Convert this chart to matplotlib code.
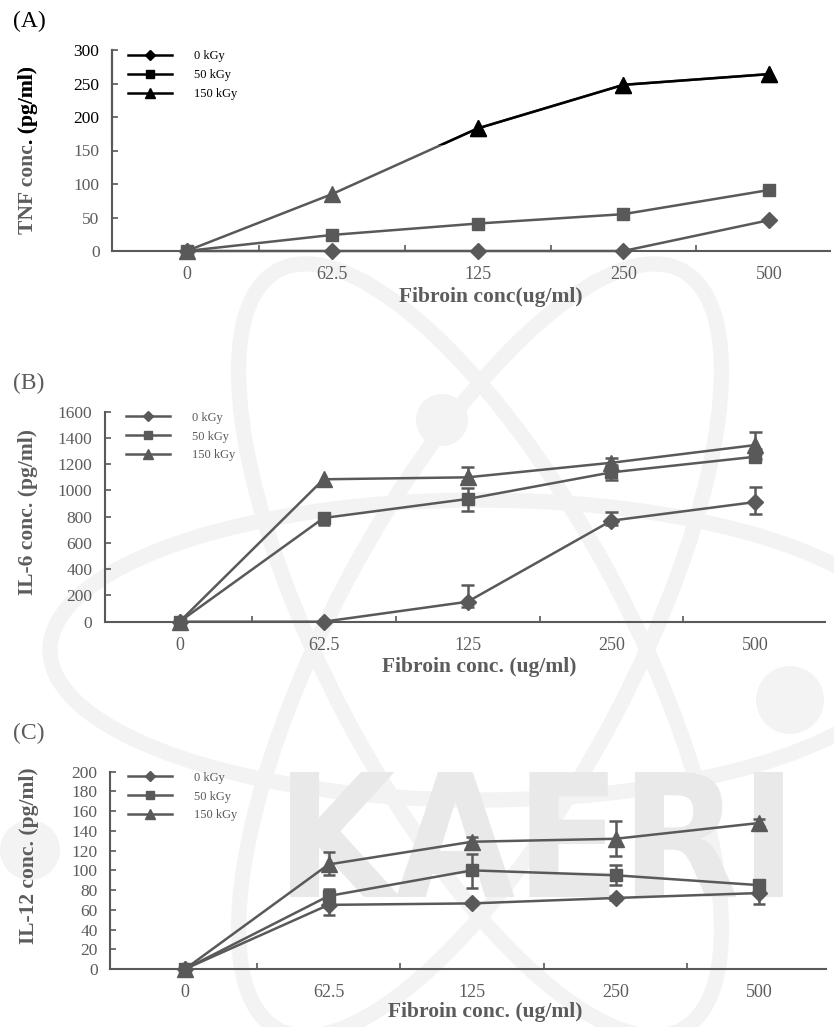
import numpy as np
import matplotlib.pyplot as plt
from matplotlib.lines import Line2D
from matplotlib.patches import Rectangle, Ellipse, Circle, PathPatch
from matplotlib.textpath import TextPath
from matplotlib.font_manager import FontProperties
from matplotlib.transforms import Affine2D

plt.rcParams["font.family"] = ["Liberation Serif", "DejaVu Serif"]

conc_labels = ["0", "62.5", "125", "250", "500"]
dose_labels = ["0 kGy", "50 kGy", "150 kGy"]
dose_markers = ["D", "s", "^"]

# (A) TNF (pg/ml)
tnf_0 = [0, 0, 0, 0, 46]
tnf_50 = [0, 24, 41, 55, 91]
tnf_150 = [0, 85, 183, 248, 264]

# (B) IL-6 (pg/ml), lower / upper error
il6_0 = [0, 0, 152, 770, 912]
il6_0_lo = [0, 0, 40, 30, 92]
il6_0_hi = [0, 0, 128, 68, 112]
il6_50 = [0, 790, 935, 1138, 1257]
il6_50_lo = [0, 53, 92, 58, 20]
il6_50_hi = [0, 30, 81, 40, 20]
il6_150 = [0, 1085, 1100, 1211, 1346]
il6_150_lo = [0, 0, 30, 20, 30]
il6_150_hi = [0, 0, 76, 35, 102]

# (C) IL-12 (pg/ml), lower / upper error
il12_0 = [0, 65, 66.5, 72, 77]
il12_0_lo = [0, 10, 2, 2, 11]
il12_0_hi = [0, 3, 2, 2, 3]
il12_50 = [0, 74, 100, 95, 85]
il12_50_lo = [0, 5, 18, 10, 5]
il12_50_hi = [0, 7, 17, 10, 5]
il12_150 = [0, 106, 129, 132, 148]
il12_150_lo = [0, 11, 3, 17, 3]
il12_150_hi = [0, 13, 5, 18, 4]

GRAY = "#595959"
TXT = "#5c5c5c"
WM = "#f3f3f3"
MS = {"D": 8, "s": 8.5, "^": 11}
CAP = 0.042
W, H = 834, 1027

fig = plt.figure(figsize=(W / 100, H / 100), dpi=100)


def px(x, y):
    return x / W, 1 - y / H


def add_axes_px(left, top, right, bottom):
    ax = fig.add_axes([left / W, 1 - bottom / H, (right - left) / W, (bottom - top) / H])
    ax.set_facecolor("none")
    return ax


def style_axes(ax, xlim, ymax, ystep):
    x = np.arange(len(conc_labels))
    ax.set_xlim(*xlim)
    ax.set_ylim(0, ymax)
    ax.set_xticks(x, conc_labels)
    ax.set_xticks(x[:-1] + 0.5, minor=True)
    ax.set_yticks(np.arange(0, ymax + 1, ystep))
    ax.tick_params(axis="x", which="major", length=0, pad=11, labelsize=13, labelcolor=TXT)
    ax.tick_params(axis="x", which="minor", direction="in", length=4, width=1.2, color=GRAY)
    ax.tick_params(axis="y", direction="in", length=4, width=1.2, color=GRAY,
                   pad=9, labelsize=12.5, labelcolor=TXT)
    for s in ("top", "right"):
        ax.spines[s].set_visible(False)
    for s in ("left", "bottom"):
        ax.spines[s].set_color(GRAY)
        ax.spines[s].set_linewidth(1.5)


def draw_series(ax, vals, marker, color=GRAY, lo=None, hi=None, clip=None):
    x = np.arange(len(vals))
    vals = np.asarray(vals, float)
    arts = []
    if lo is not None:
        lo = np.asarray(lo, float)
        hi = np.asarray(hi, float)
        m = (lo > 0) | (hi > 0)
        arts.append(ax.vlines(x[m], (vals - lo)[m], (vals + hi)[m], color=color, lw=1.8, zorder=2))
        for edge, mask in ((vals - lo, lo > 0), (vals + hi, hi > 0)):
            arts.append(ax.hlines(edge[mask], x[mask] - CAP, x[mask] + CAP,
                                  color=color, lw=1.8, zorder=2))
    line, = ax.plot(x, vals, color=color, marker=marker, ms=MS[marker], lw=1.8,
                    zorder=3, clip_on=clip is not None)
    arts.append(line)
    if clip is not None:
        for a in arts:
            a.set_clip_path(clip)
    return line


def add_legend(ax, color, anchor):
    handles = [Line2D([], [], color=color, marker=m, ms=MS[m] * 0.62, lw=1.8) for m in dose_markers]
    leg = ax.legend(handles, dose_labels, loc="upper left", bbox_to_anchor=anchor,
                    frameon=False, fontsize=9, handlelength=3.5, handletextpad=1.8,
                    labelspacing=0.55, borderpad=0, borderaxespad=0)
    for t in leg.get_texts():
        t.set_color(color)


def bold_text(x, y, s, color=TXT, rotation=0):
    return fig.text(*px(x, y), s, fontsize=15.5, fontweight="bold", color=color,
                    ha="center", va="center", rotation=rotation)


# background watermark
tp = TextPath((0, 0), "KAERI", size=1, prop=FontProperties(family="DejaVu Sans", weight="bold"))
bb = tp.get_extents()
wx0, wx1, wtop, wbot = 290, 783, 772, 897
tr = (Affine2D().translate(-bb.x0, -bb.y0)
      .scale((wx1 - wx0) / bb.width / W, (wbot - wtop) / bb.height / H)
      .translate(wx0 / W, 1 - wbot / H) + fig.transFigure)
fig.add_artist(PathPatch(tp, transform=tr, fc="#e9e9e9", ec="none", zorder=-10))
for ang in (0, 62, -62):
    fig.add_artist(Ellipse((4.8, (H - 650) / 100), 8.6, 3.0, angle=ang, fill=False,
                           ec=WM, lw=11, transform=fig.dpi_scale_trans, zorder=-11))
for cx, cy, r in ((442, 420, 26), (790, 700, 34), (30, 850, 30)):
    fig.add_artist(Circle((cx / 100, (H - cy) / 100), r / 100, fc=WM, ec="none",
                          transform=fig.dpi_scale_trans, zorder=-11))

# (A) TNF
axA = add_axes_px(112, 50, 830, 251)
style_axes(axA, (-0.512, 4.419), 300, 50)
draw_series(axA, tnf_0, "D")
draw_series(axA, tnf_50, "s")
draw_series(axA, tnf_150, "^")
# upper band of panel A printed in black
y_cut = 158
upper = Rectangle((-1, y_cut), 10, 1000, transform=axA.transData)
draw_series(axA, tnf_150, "^", color="black", clip=upper)
axA.axvline(-0.512, ymin=y_cut / 300, ymax=1, color="black", lw=1.5, clip_on=False, zorder=2.5)
for lbl, tick, val in zip(axA.get_yticklabels(), axA.yaxis.get_major_ticks(), axA.get_yticks()):
    if val >= 200:
        lbl.set_color("black")
        tick.tick1line.set_color("black")
add_legend(axA, "black", (0.022, 0.998))
bold_text(491, 297, "Fibroin conc(ug/ml)")
bold_text(28, 150, "TNF conc. (pg/ml)", rotation=90)
top_clip = Rectangle((0, 1 - 145 / H), 1, 145 / H, transform=fig.transFigure)
t_black = bold_text(28, 150, "TNF conc. (pg/ml)", color="black", rotation=90)
t_black.set_clip_on(True)
t_black.set_clip_path(top_clip)
fig.text(*px(13, 21), "(A)", fontsize=17, ha="left", va="center", color="black")

# (B) IL-6
axB = add_axes_px(105, 411.7, 825, 621.7)
style_axes(axB, (-0.518, 4.483), 1600, 200)
draw_series(axB, il6_0, "D", lo=il6_0_lo, hi=il6_0_hi)
draw_series(axB, il6_50, "s", lo=il6_50_lo, hi=il6_50_hi)
draw_series(axB, il6_150, "^", lo=il6_150_lo, hi=il6_150_hi)
add_legend(axB, GRAY, (0.029, 1.0))
bold_text(479, 667, "Fibroin conc. (ug/ml)")
bold_text(28, 512, "IL-6 conc. (pg/ml)", rotation=90)
fig.text(*px(13, 383), "(B)", fontsize=17, ha="left", va="center", color=TXT)

# (C) IL-12
axC = add_axes_px(110, 771.7, 826, 969)
style_axes(axC, (-0.523, 4.467), 200, 20)
draw_series(axC, il12_0, "D", lo=il12_0_lo, hi=il12_0_hi)
draw_series(axC, il12_50, "s", lo=il12_50_lo, hi=il12_50_hi)
draw_series(axC, il12_150, "^", lo=il12_150_lo, hi=il12_150_hi)
add_legend(axC, GRAY, (0.025, 1.0))
bold_text(485, 1012, "Fibroin conc. (ug/ml)")
bold_text(29, 856, "IL-12 conc. (pg/ml)", rotation=90)
fig.text(*px(13, 733), "(C)", fontsize=17, ha="left", va="center", color=TXT)

fig.savefig("out.png", dpi=100)
